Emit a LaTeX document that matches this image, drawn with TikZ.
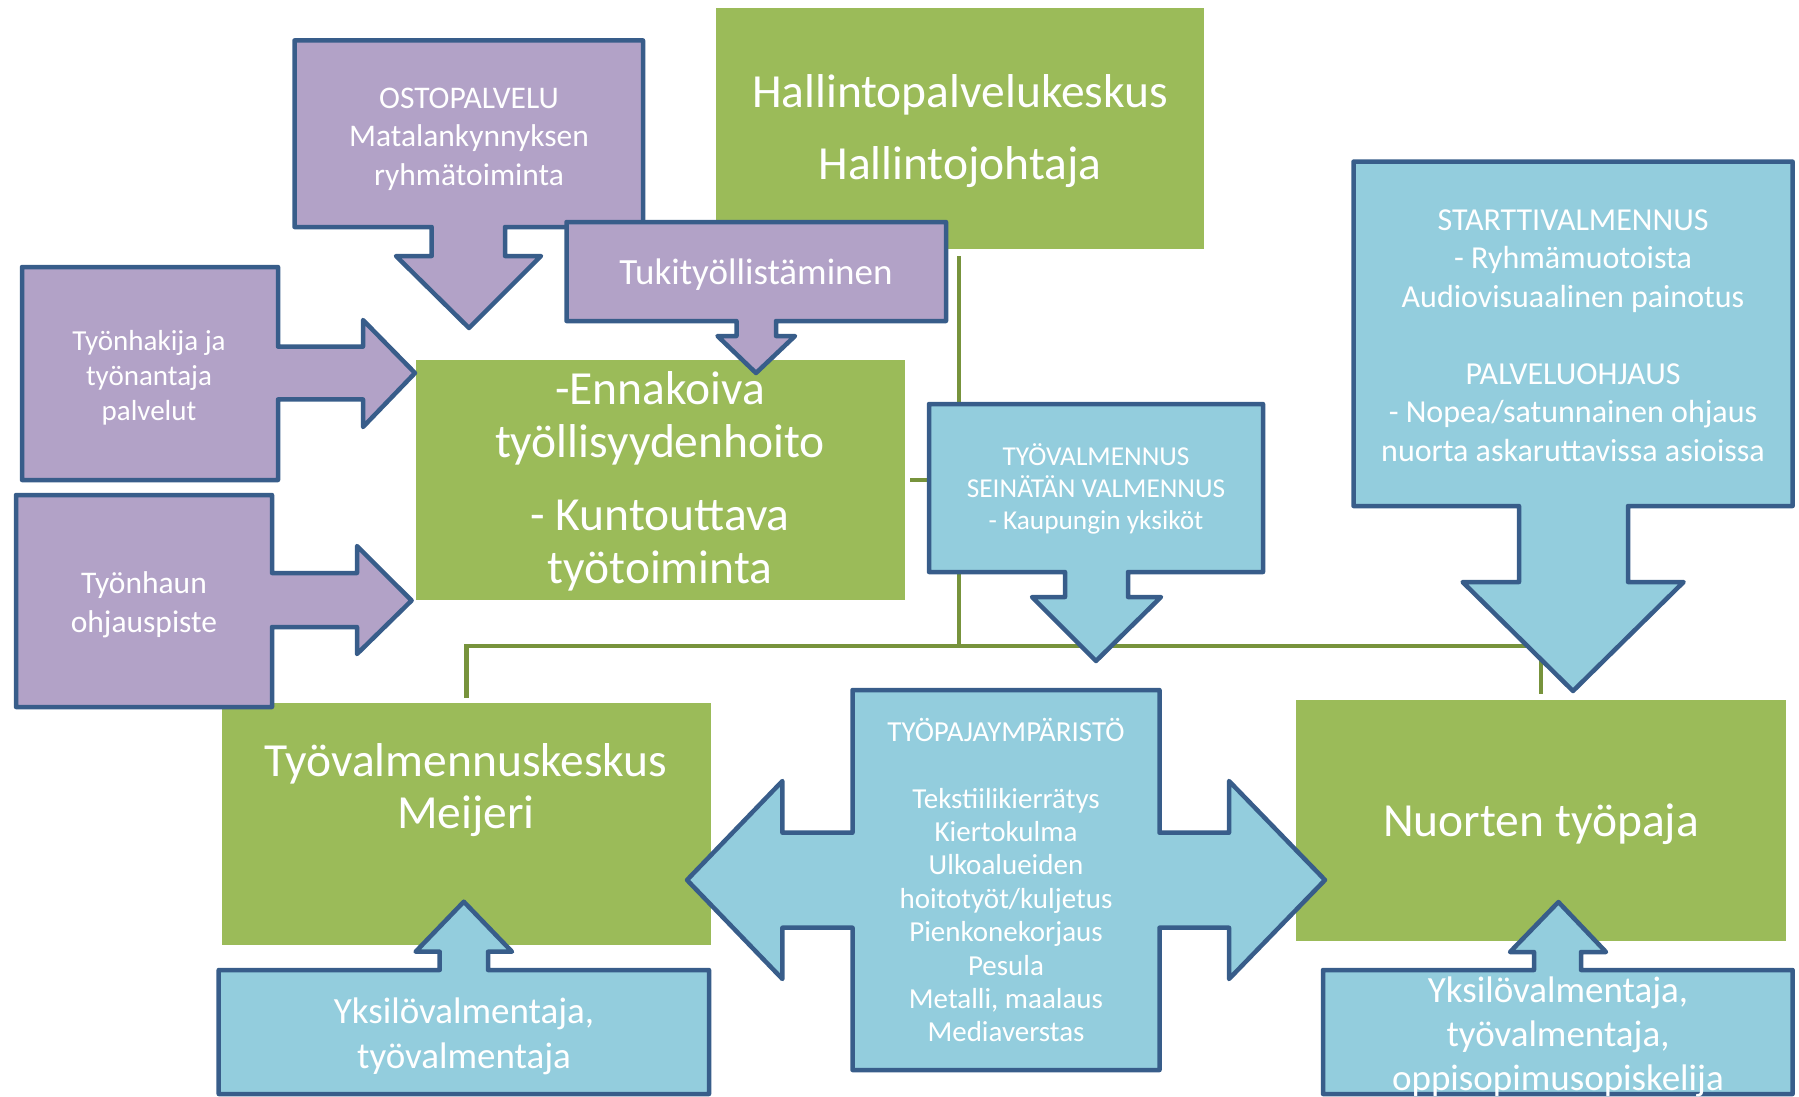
\documentclass[tikz,border=0pt]{standalone}
\usepackage{fontspec}
\setmainfont{Carlito}
\newcommand\myfs[2]{\fontsize{#1}{#2}\selectfont}
\definecolor{cgreen}{HTML}{9BBB59}
\definecolor{cpurple}{HTML}{B2A2C7}
\definecolor{cblue}{HTML}{93CDDD}
\definecolor{cborder}{HTML}{385D8A}
\definecolor{cline}{HTML}{77933C}
\tikzset{
  gbox/.style={fill=cgreen, draw=none, inner sep=0pt, outer sep=0pt, text=white, align=center},
  pshape/.style={fill=cpurple, draw=cborder, line width=4.5pt, line join=round},
  bshape/.style={fill=cblue, draw=cborder, line width=4.5pt, line join=round},
  lbl/.style={text=white, align=center, inner sep=0pt},
  conn/.style={draw=cline, line width=4.5pt},
}
\begin{document}
\begin{tikzpicture}[x=1pt,y=-1pt]
\useasboundingbox (0,0) rectangle (1799,1096);

% green boxes
\node[gbox, minimum width=488pt, minimum height=241pt] (hallinto) at (960,128.5) {};
\node[gbox, minimum width=489pt, minimum height=240.5pt] (ennakoiva) at (660.5,479.75) {};
\node[gbox, minimum width=489pt, minimum height=242pt] (meijeri) at (466.5,824) {};
\node[gbox, minimum width=490pt, minimum height=241pt] (nuorten) at (1541,820.5) {};

% connectors
\coordinate (j1) at (959,646);
\draw[conn, shorten <=7pt] (hallinto.south -| j1) -- (j1);
\draw[conn, shorten <=5pt, shorten >=6pt] (meijeri.north) -- (meijeri.north |- j1) -- (nuorten.north |- j1) -- (nuorten.north);
\draw[conn, shorten <=5pt] (ennakoiva.east) -- (ennakoiva.east -| j1);

% purple callouts
\path[pshape] (294.5,40.4) -- (643,40.4) -- (643,227) -- (505,227) -- (505,256) -- (541,256) -- (469,328) -- (396,256) -- (431.7,256) -- (431.7,227) -- (294.5,227) -- cycle;
\path[pshape] (566.5,222) -- (946,222) -- (946,321) -- (776,321) -- (776,336) -- (795,336) -- (756,373) -- (717.5,336) -- (736.5,336) -- (736.5,321) -- (566.5,321) -- cycle;
\path[pshape] (22,267) -- (278,267) -- (278,346.6) -- (363,346.6) -- (363,320) -- (415,373) -- (363,427) -- (363,399.4) -- (278,399.4) -- (278,480) -- (22,480) -- cycle;
\path[pshape] (16,495) -- (272,495) -- (272,573) -- (357,573) -- (357,546) -- (411.6,600.5) -- (357,654) -- (357,627) -- (272,627) -- (272,707) -- (16,707) -- cycle;

% blue callouts
\path[bshape] (929,404) -- (1263,404) -- (1263,572) -- (1128,572) -- (1128,597) -- (1161,597) -- (1096,661) -- (1032,597) -- (1065,597) -- (1065,572) -- (929,572) -- cycle;
\path[bshape] (1353.5,161.6) -- (1792.6,161.6) -- (1792.6,506) -- (1628,506) -- (1628,582) -- (1683.6,582) -- (1573,691) -- (1462.6,582) -- (1519,582) -- (1519,506) -- (1353.5,506) -- cycle;
\path[bshape] (852.5,690) -- (1159.5,690) -- (1159.5,832.7) -- (1229,832.7) -- (1229,781) -- (1325,880) -- (1229,979) -- (1229,927.7) -- (1159.5,927.7) -- (1159.5,1070) -- (852.5,1070) -- (852.5,927.7) -- (782.4,927.7) -- (782.4,979) -- (687,880) -- (782.4,781) -- (782.4,832.7) -- (852.5,832.7) -- cycle;
\path[bshape] (218.7,1094) -- (218.7,970) -- (439.7,970) -- (439.7,951.7) -- (415.6,951.7) -- (463.8,901.7) -- (512,951.7) -- (488,951.7) -- (488,970) -- (709,970) -- (709,1094) -- cycle;
\path[bshape] (1323,1094) -- (1323,970) -- (1534,970) -- (1534,952) -- (1510,952) -- (1558.4,902) -- (1606,952) -- (1581,952) -- (1581,970) -- (1792.6,970) -- (1792.6,1094) -- cycle;

% labels
\node[lbl, font={\myfs{47.5}{72}}] (hallintoteksti) at (960,131) {Hallintopalvelukeskus\\Hallintojohtaja};
\node[lbl, font={\myfs{47.5}{56}}] (nuortenteksti) at (1541,824) {Nuorten työpaja};
\node[lbl, font={\myfs{31.5}{38.5}}] (osto) at (469,139.3) {OSTOPALVELU\\Matalankynnyksen\\ryhmätoiminta};
\node[lbl, font={\myfs{37}{45}}] (tuki) at (756,275) {Tukityöllistäminen};
\node[lbl, font={\myfs{29}{35}}] (hakija) at (149,377.5) {Työnhakija ja\\työnantaja\\palvelut};
\node[lbl, font={\myfs{31.5}{39}}] (haun) at (144,604.5) {Työnhaun\\ohjauspiste};
\node[lbl, font={\myfs{47.5}{53}}] (ennteksti) at (660,481.5) {-Ennakoiva\\työllisyydenhoito\\[20pt]- Kuntouttava\\työtoiminta};
\node[lbl, font={\myfs{27.3}{32}}] (tyoval) at (1096,489) {TYÖVALMENNUS\\SEINÄTÄN VALMENNUS\\- Kaupungin yksiköt};
\node[lbl, font={\myfs{32}{38.5}}] (startti) at (1573,335.5) {STARTTIVALMENNUS\\- Ryhmämuotoista\\Audiovisuaalinen painotus\\[38.5pt]PALVELUOHJAUS\\- Nopea/satunnainen ohjaus\\nuorta askaruttavissa asioissa};
\node[lbl, font={\myfs{47.5}{51.7}}] (meijeriteksti) at (466,790) {Työvalmennuskeskus\\Meijeri};
\node[lbl, font={\myfs{29}{33.4}}] (tyopaja) at (1006,880) {TYÖPAJAYMPÄRISTÖ\\[33.4pt]Tekstiilikierrätys\\Kiertokulma\\Ulkoalueiden\\hoitotyöt/kuljetus\\Pienkonekorjaus\\Pesula\\Metalli, maalaus\\Mediaverstas};
\node[lbl, font={\myfs{37}{45}}] (yksvas) at (464,1036.5) {Yksilövalmentaja,\\työvalmentaja};
\node[lbl, font={\myfs{37}{44}}] (ykso) at (1558,1036.5) {Yksilövalmentaja,\\työvalmentaja,\\oppisopimusopiskelija};
\end{tikzpicture}
\end{document}
